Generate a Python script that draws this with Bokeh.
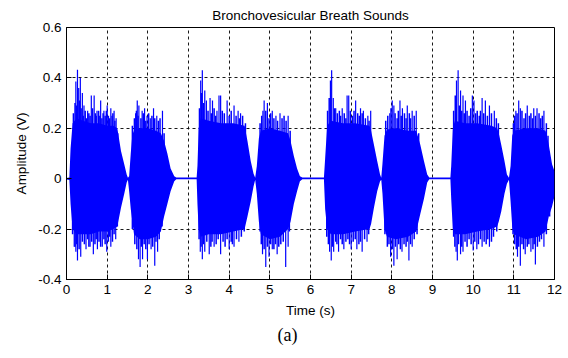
from bokeh.plotting import figure
from bokeh.models import FixedTicker, Range1d, Title
from bokeh.embed import file_html
from bokeh.resources import INLINE

# ---- data ----
title_text = "Bronchovesicular Breath Sounds"
x_ticks = [0, 1, 2, 3, 4, 5, 6, 7, 8, 9, 10, 11, 12]
y_ticks = [-0.4, -0.2, 0, 0.2, 0.4, 0.6]
y_tick_labels = ["-0.4", "-0.2", "0", "0.2", "0.4", "0.6"]

# envelope of the dense signal core (time s, upper V, lower V)
env_t = [0.00, 0.07, 0.10, 0.15, 0.25, 0.40, 0.60, 0.80, 1.00, 1.15, 1.25, 1.34, 1.42, 1.48, 1.51,
         1.54, 1.58, 1.62, 1.66, 1.80, 2.00, 2.20, 2.32, 2.40, 2.48, 2.56, 2.65, 2.70,
         3.20, 3.22, 3.25, 3.30, 3.50, 3.80, 4.10, 4.38, 4.45, 4.53, 4.60, 4.64,
         4.68, 4.73, 4.78, 5.00, 5.25, 5.45, 5.51, 5.59, 5.67, 5.74, 5.80,
         6.33, 6.36, 6.41, 6.50, 6.80, 7.10, 7.45, 7.49, 7.56, 7.64, 7.71, 7.74,
         7.77, 7.82, 7.88, 8.10, 8.40, 8.60, 8.70, 8.79, 8.87, 8.92,
         9.44, 9.46, 9.50, 9.55, 9.80, 10.10, 10.45, 10.59, 10.63, 10.69, 10.77, 10.83, 10.88,
         10.92, 10.96, 11.00, 11.30, 11.60, 11.78, 11.86, 11.94, 12.00]
env_hi = [0.003, 0.005, 0.12, 0.22, 0.24, 0.23, 0.22, 0.22, 0.21, 0.21, 0.20, 0.11, 0.057, 0.017, 0.004,
          0.01, 0.10, 0.175, 0.19, 0.20, 0.20, 0.19, 0.18, 0.15, 0.10, 0.04, 0.01, 0.005,
          0.005, 0.05, 0.20, 0.24, 0.23, 0.22, 0.22, 0.21, 0.15, 0.07, 0.02, 0.004,
          0.05, 0.16, 0.19, 0.20, 0.19, 0.18, 0.15, 0.09, 0.04, 0.01, 0.005,
          0.005, 0.08, 0.21, 0.23, 0.22, 0.22, 0.21, 0.19, 0.135, 0.07, 0.017, 0.004,
          0.06, 0.17, 0.195, 0.20, 0.19, 0.19, 0.135, 0.07, 0.017, 0.005,
          0.005, 0.05, 0.20, 0.23, 0.22, 0.22, 0.21, 0.20, 0.18, 0.135, 0.07, 0.017, 0.004,
          0.05, 0.17, 0.19, 0.20, 0.20, 0.19, 0.135, 0.057, 0.03]
env_lo = [-0.003, -0.005, -0.10, -0.20, -0.22, -0.22, -0.22, -0.21, -0.21, -0.20, -0.19, -0.115, -0.06, -0.015, -0.004,
          -0.05, -0.12, -0.17, -0.22, -0.24, -0.24, -0.23, -0.21, -0.15, -0.10, -0.05, -0.01, -0.002,
          -0.002, -0.10, -0.20, -0.23, -0.22, -0.22, -0.21, -0.20, -0.15, -0.09, -0.03, -0.004,
          -0.06, -0.17, -0.22, -0.24, -0.23, -0.20, -0.17, -0.10, -0.05, -0.01, -0.002,
          -0.002, -0.12, -0.20, -0.22, -0.22, -0.21, -0.20, -0.18, -0.115, -0.05, -0.01, -0.004,
          -0.06, -0.20, -0.23, -0.24, -0.23, -0.21, -0.14, -0.08, -0.015, -0.002,
          -0.002, -0.08, -0.20, -0.22, -0.22, -0.21, -0.20, -0.19, -0.17, -0.13, -0.06, -0.02, -0.004,
          -0.09, -0.19, -0.22, -0.24, -0.23, -0.21, -0.15, -0.11, -0.07]

# tallest positive peaks (time s, amplitude V)
up_t = [0.23, 0.27, 0.30, 0.34, 0.39, 0.43, 0.52, 0.61, 0.68, 0.75, 0.84, 0.92, 1.00, 1.09, 1.17, 1.22,
        1.70, 1.74, 1.78, 1.86, 1.92, 1.98, 2.06, 2.14, 2.22, 2.36,
        3.30, 3.34, 3.40, 3.44, 3.53, 3.59, 3.70, 3.75, 3.79, 3.95, 4.12, 4.22, 4.28,
        4.83, 4.86, 4.94, 5.06, 5.15, 5.25, 5.45,
        6.49, 6.52, 6.56, 6.62, 6.78, 6.90, 6.94, 7.11, 7.23, 7.30, 7.41, 7.48,
        7.95, 8.01, 8.05, 8.20, 8.26, 8.38, 8.50, 8.60,
        9.59, 9.63, 9.69, 9.75, 9.81, 9.98, 10.02, 10.22, 10.30, 10.40, 10.52,
        11.05, 11.12, 11.16, 11.33, 11.49, 11.57, 11.74]
up_v = [0.386, 0.432, 0.36, 0.40, 0.34, 0.29, 0.27, 0.33, 0.33, 0.27, 0.31, 0.27, 0.29, 0.28, 0.27, 0.24,
        0.26, 0.31, 0.29, 0.27, 0.28, 0.25, 0.24, 0.28, 0.25, 0.27,
        0.39, 0.43, 0.35, 0.31, 0.32, 0.31, 0.27, 0.33, 0.33, 0.31, 0.29, 0.27, 0.26,
        0.27, 0.31, 0.30, 0.27, 0.25, 0.26, 0.25,
        0.39, 0.43, 0.32, 0.28, 0.28, 0.33, 0.33, 0.31, 0.28, 0.27, 0.25, 0.27,
        0.26, 0.31, 0.29, 0.31, 0.28, 0.29, 0.27, 0.27,
        0.39, 0.43, 0.35, 0.33, 0.31, 0.33, 0.31, 0.32, 0.31, 0.29, 0.27,
        0.27, 0.31, 0.28, 0.29, 0.28, 0.28, 0.27]

# smaller positive peaks along the top edge of each burst
mid_up_t = [0.17, 0.21, 0.25, 0.32, 0.36, 0.41, 0.46, 0.49, 0.55, 0.58, 0.64, 0.71, 0.73, 0.79, 0.82,
            0.87, 0.90, 0.95, 0.98, 1.03, 1.06, 1.12, 1.14, 1.19, 1.26,
            1.62, 1.67, 1.72, 1.76, 1.83, 1.89, 1.95, 2.02, 2.10, 2.17, 2.26, 2.30, 2.40,
            3.27, 3.32, 3.37, 3.48, 3.56, 3.63, 3.67, 3.83, 3.88, 4.00, 4.05, 4.17, 4.25, 4.33, 4.40,
            4.76, 4.80, 4.90, 4.98, 5.02, 5.10, 5.19, 5.30, 5.35, 5.40, 5.50,
            6.42, 6.46, 6.59, 6.66, 6.71, 6.74, 6.83, 6.87, 6.98, 7.03, 7.07, 7.16, 7.20, 7.27, 7.35, 7.44,
            7.85, 7.90, 7.98, 8.08, 8.13, 8.16, 8.23, 8.31, 8.35, 8.43, 8.46, 8.55, 8.66,
            9.52, 9.56, 9.66, 9.72, 9.78, 9.85, 9.90, 9.94, 10.06, 10.10, 10.15, 10.18, 10.26, 10.35, 10.45, 10.57, 10.62,
            10.99, 11.02, 11.08, 11.20, 11.25, 11.29, 11.38, 11.42, 11.46, 11.53, 11.62, 11.66, 11.70, 11.80, 11.84]
mid_up_v = [0.26, 0.30, 0.29, 0.31, 0.28, 0.25, 0.27, 0.24, 0.26, 0.25, 0.28, 0.26, 0.25, 0.27, 0.25,
            0.24, 0.26, 0.25, 0.27, 0.25, 0.24, 0.25, 0.26, 0.23, 0.18,
            0.21, 0.24, 0.27, 0.25, 0.24, 0.26, 0.23, 0.26, 0.25, 0.24, 0.23, 0.24, 0.18,
            0.28, 0.34, 0.30, 0.27, 0.26, 0.28, 0.25, 0.27, 0.26, 0.25, 0.27, 0.25, 0.24, 0.25, 0.22,
            0.22, 0.25, 0.27, 0.24, 0.26, 0.24, 0.23, 0.24, 0.25, 0.23, 0.19,
            0.27, 0.32, 0.28, 0.26, 0.27, 0.25, 0.26, 0.24, 0.27, 0.25, 0.27, 0.26, 0.25, 0.26, 0.24, 0.23,
            0.23, 0.25, 0.28, 0.26, 0.24, 0.27, 0.25, 0.26, 0.24, 0.26, 0.24, 0.25, 0.18,
            0.27, 0.33, 0.29, 0.27, 0.26, 0.27, 0.25, 0.28, 0.26, 0.27, 0.25, 0.27, 0.26, 0.25, 0.26, 0.24, 0.22,
            0.22, 0.25, 0.26, 0.27, 0.24, 0.26, 0.25, 0.26, 0.24, 0.25, 0.26, 0.24, 0.25, 0.22, 0.17]

# deepest negative peaks (time s, amplitude V)
dn_t = [0.19, 0.23, 0.27, 0.35, 0.48, 0.58, 0.66, 0.76, 0.88, 0.99, 1.09, 1.21,
        1.77, 1.81, 1.87, 1.99, 2.08, 2.17, 2.24,
        3.29, 3.34, 3.40, 3.51, 3.63, 3.79, 4.00, 4.12, 4.24,
        4.82, 4.90, 4.98, 5.06, 5.18, 5.39, 5.45,
        6.47, 6.51, 6.57, 6.69, 6.82, 7.00, 7.14, 7.27, 7.39,
        7.97, 8.05, 8.13, 8.25, 8.42, 8.50,
        9.58, 9.61, 9.69, 9.75, 10.00, 10.09, 10.22, 10.40,
        11.09, 11.16, 11.28, 11.42, 11.53, 11.74]
dn_v = [-0.27, -0.29, -0.325, -0.31, -0.28, -0.27, -0.30, -0.28, -0.27, -0.29, -0.27, -0.24,
        -0.32, -0.35, -0.32, -0.32, -0.28, -0.345, -0.29,
        -0.29, -0.32, -0.29, -0.30, -0.27, -0.30, -0.28, -0.27, -0.25,
        -0.30, -0.35, -0.31, -0.28, -0.30, -0.35, -0.27,
        -0.29, -0.325, -0.29, -0.29, -0.28, -0.28, -0.28, -0.29, -0.25,
        -0.31, -0.345, -0.32, -0.29, -0.325, -0.27,
        -0.29, -0.325, -0.30, -0.29, -0.285, -0.28, -0.27, -0.27,
        -0.31, -0.345, -0.30, -0.29, -0.34, -0.27]

# smaller negative peaks along the bottom edge of each burst
mid_dn_t = [0.15, 0.21, 0.25, 0.31, 0.39, 0.44, 0.52, 0.55, 0.62, 0.70, 0.73, 0.80, 0.84, 0.92, 0.95,
            1.03, 1.06, 1.13, 1.17, 1.25,
            1.62, 1.68, 1.73, 1.84, 1.91, 1.95, 2.03, 2.12, 2.20, 2.28, 2.35,
            3.26, 3.31, 3.37, 3.45, 3.55, 3.58, 3.68, 3.73, 3.85, 3.90, 3.95, 4.05, 4.08, 4.18, 4.30, 4.37,
            4.76, 4.79, 4.86, 4.94, 5.02, 5.10, 5.14, 5.22, 5.27, 5.33, 5.48,
            6.40, 6.44, 6.54, 6.62, 6.65, 6.74, 6.78, 6.87, 6.92, 6.96, 7.05, 7.10, 7.19, 7.23, 7.33, 7.43,
            7.83, 7.89, 7.93, 8.01, 8.09, 8.17, 8.21, 8.30, 8.35, 8.38, 8.46, 8.55, 8.62,
            9.52, 9.55, 9.64, 9.72, 9.80, 9.85, 9.90, 9.95, 10.04, 10.13, 10.18, 10.27, 10.32, 10.36, 10.45, 10.50, 10.58,
            10.98, 11.02, 11.06, 11.12, 11.20, 11.24, 11.33, 11.37, 11.47, 11.50, 11.58, 11.63, 11.68, 11.80, 11.88]
mid_dn_v = [-0.22, -0.27, -0.26, -0.28, -0.25, -0.26, -0.24, -0.27, -0.25, -0.26, -0.24, -0.25, -0.27, -0.24, -0.26,
            -0.25, -0.23, -0.25, -0.22, -0.19,
            -0.20, -0.26, -0.28, -0.27, -0.26, -0.28, -0.26, -0.27, -0.25, -0.24, -0.19,
            -0.24, -0.27, -0.26, -0.25, -0.27, -0.25, -0.26, -0.24, -0.25, -0.27, -0.24, -0.25, -0.26, -0.24, -0.23, -0.21,
            -0.21, -0.26, -0.28, -0.27, -0.26, -0.28, -0.26, -0.27, -0.26, -0.25, -0.21,
            -0.23, -0.26, -0.27, -0.25, -0.26, -0.24, -0.26, -0.25, -0.24, -0.26, -0.25, -0.24, -0.26, -0.25, -0.24, -0.22,
            -0.22, -0.27, -0.26, -0.28, -0.27, -0.26, -0.28, -0.26, -0.27, -0.25, -0.26, -0.24, -0.22,
            -0.23, -0.27, -0.26, -0.27, -0.25, -0.27, -0.24, -0.26, -0.25, -0.26, -0.24, -0.25, -0.26, -0.24, -0.25, -0.23, -0.21,
            -0.22, -0.26, -0.28, -0.27, -0.26, -0.28, -0.27, -0.26, -0.28, -0.26, -0.27, -0.25, -0.24, -0.22, -0.15]

BLUE = "#0000FF"
FONT = "Liberation Sans"
FS = "13.5px"

p = figure(width=568, height=358, output_backend="svg", toolbar_location=None,
           x_range=Range1d(0, 12), y_range=Range1d(-0.4, 0.6),
           min_border_left=66, min_border_right=14, min_border_top=26, min_border_bottom=79)

p.title.text = title_text
p.title.align = "center"
p.title.text_font = FONT
p.title.text_font_size = FS
p.title.text_font_style = "normal"
p.title.text_color = "#000000"

p.varea(x=env_t, y1=env_lo, y2=env_hi, fill_color=BLUE)
p.segment(x0=mid_up_t, y0=[0] * len(mid_up_t), x1=mid_up_t, y1=mid_up_v, line_color=BLUE, line_width=1.5)
p.segment(x0=mid_dn_t, y0=[0] * len(mid_dn_t), x1=mid_dn_t, y1=mid_dn_v, line_color=BLUE, line_width=1.5)
p.segment(x0=up_t, y0=[0] * len(up_t), x1=up_t, y1=up_v, line_color=BLUE, line_width=1.2)
p.segment(x0=dn_t, y0=[0] * len(dn_t), x1=dn_t, y1=dn_v, line_color=BLUE, line_width=1.2)

p.xaxis.ticker = FixedTicker(ticks=x_ticks)
p.yaxis.ticker = FixedTicker(ticks=y_ticks)
p.yaxis.major_label_overrides = {t: l for t, l in zip(y_ticks, y_tick_labels)}
p.xaxis.axis_label = "Time (s)"
p.yaxis.axis_label = "Amplitude (V)"

for ax in (p.xaxis, p.yaxis):
    ax.axis_label_text_font = FONT
    ax.axis_label_text_font_size = FS
    ax.axis_label_text_font_style = "normal"
    ax.axis_label_text_color = "#000000"
    ax.major_label_text_font = FONT
    ax.major_label_text_font_size = FS
    ax.major_label_text_color = "#000000"
    ax.axis_line_color = "#000000"
    ax.major_tick_line_color = "#000000"
    ax.major_tick_in = 5
    ax.major_tick_out = 0
    ax.minor_tick_line_color = None
    ax.major_label_standoff = 5
    ax.axis_label_standoff = 6

p.grid.grid_line_color = "#000000"
p.grid.grid_line_dash = "3 3"
p.grid.grid_line_alpha = 0.9
p.outline_line_color = "#000000"
p.outline_line_alpha = 1
p.background_fill_color = "white"

cap = Title(text="(a)", align="left", text_font="Liberation Serif", text_font_size="18px",
            text_font_style="normal", text_color="#000000", offset=211, standoff=4)
p.add_layout(cap, "below")

open("out.html", "w").write(file_html(p, INLINE))
